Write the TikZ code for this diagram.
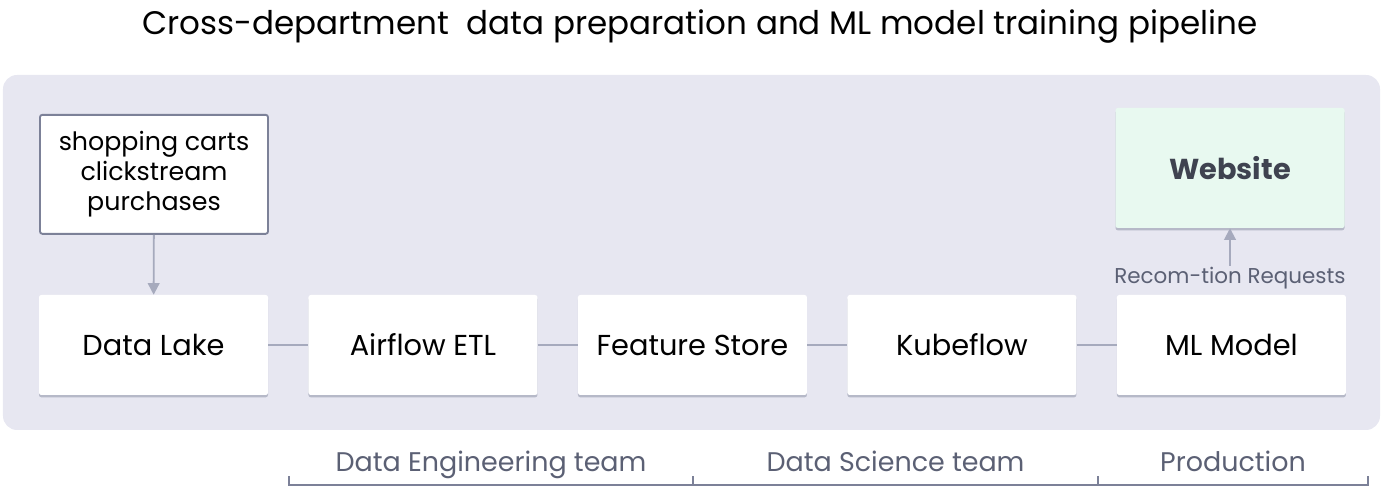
\documentclass[tikz,border=0pt]{standalone}
\usepackage{fontspec}
\setmainfont{Poppins}
\usetikzlibrary{positioning,shadows,arrows.meta}
\definecolor{panelgray}{RGB}{231, 231, 241}
\definecolor{linegray}{RGB}{166, 170, 189}
\definecolor{edgegray}{RGB}{124, 129, 152}
\definecolor{labelgray}{RGB}{91, 96, 116}
\definecolor{inkgray}{RGB}{63, 67, 80}
\definecolor{mint}{RGB}{232, 249, 240}

\tikzset{
    stage/.style={fill=white, rounded corners=2pt, minimum width=6.87cm, minimum height=3.00cm,
                  font=\fontsize{24.6}{28}\selectfont,
                  drop shadow={shadow xshift=0pt, shadow yshift=-2pt, fill=edgegray, opacity=0.45}},
    source/.style={draw=edgegray, line width=1.6pt, fill=white, rounded corners=2pt, align=center,
                   minimum width=6.84cm, minimum height=3.57cm, font=\fontsize{21.6}{25.6}\selectfont},
    link/.style={draw=linegray, line width=1.8pt},
    feed/.style={draw=linegray, line width=1.6pt, -{Triangle[length=10pt, width=10pt]}},
    team/.style={color=labelgray, font=\fontsize{23}{26}\selectfont, anchor=base}
}

\begin{document}
\begin{tikzpicture}
    \useasboundingbox (0,0) rectangle (42,14.67);
    % panel and title
    \filldraw[fill=panelgray, draw=none, rounded corners=12pt] (0.09,1.77) rectangle (41.40,12.42);
    \node[font=\fontsize{27.8}{32}\selectfont] (title) at (21.00,13.86)
         {Cross-department\ \ data preparation and ML model training pipeline};

    % pipeline stages
    \node[stage]                   (lake)    at (4.605,4.32) {Data Lake};
    \node[stage, right=1.2cm of lake]  (etl)     {Airflow ETL};
    \node[stage, right=1.2cm of etl]   (store)   {Feature Store};
    \node[stage, right=1.2cm of store] (kube)    {Kubeflow};
    \node[stage, right=1.2cm of kube]  (model)   {ML Model};

    \node[source] (events) at (4.62,9.44) {shopping carts\\clickstream\\purchases};
    \node[stage, fill=mint, minimum height=3.60cm, text=inkgray] (web) at (36.90,9.63) {\bfseries Website};
    \node[color=labelgray, font=\fontsize{18.3}{21}\selectfont, inner sep=1pt] (req) at (36.90,6.33)
         {Recom-tion Requests};

    \draw[link] (lake) -- (etl);
    \draw[link] (etl) -- (store);
    \draw[link] (store) -- (kube);
    \draw[link] (kube) -- (model);
    \draw[feed] (events) -- (lake);
    \draw[feed] (req) -- (web);

    % team brackets
    \coordinate (b0) at (8.67,0.12);
    \coordinate (b1) at (20.79,0.12);
    \coordinate (b2) at (32.94,0.12);
    \coordinate (b3) at (41.04,0.12);
    \draw[draw=edgegray, line width=1.2pt] ([yshift=0.26cm]b0) -- (b0) -- (b3) -- ([yshift=0.26cm]b3);
    \draw[draw=edgegray, line width=1.2pt] ([yshift=0.26cm]b1) -- (b1);
    \draw[draw=edgegray, line width=1.2pt] ([yshift=0.26cm]b2) -- (b2);
    \path (b0) -- (b1) node[team, midway, yshift=0.40cm] (eng) {Data Engineering team};
    \path (b1) -- (b2) node[team, midway, yshift=0.40cm] (sci) {Data Science team};
    \path (b2) -- (b3) node[team, midway, yshift=0.40cm] (prod) {Production};
\end{tikzpicture}
\end{document}
